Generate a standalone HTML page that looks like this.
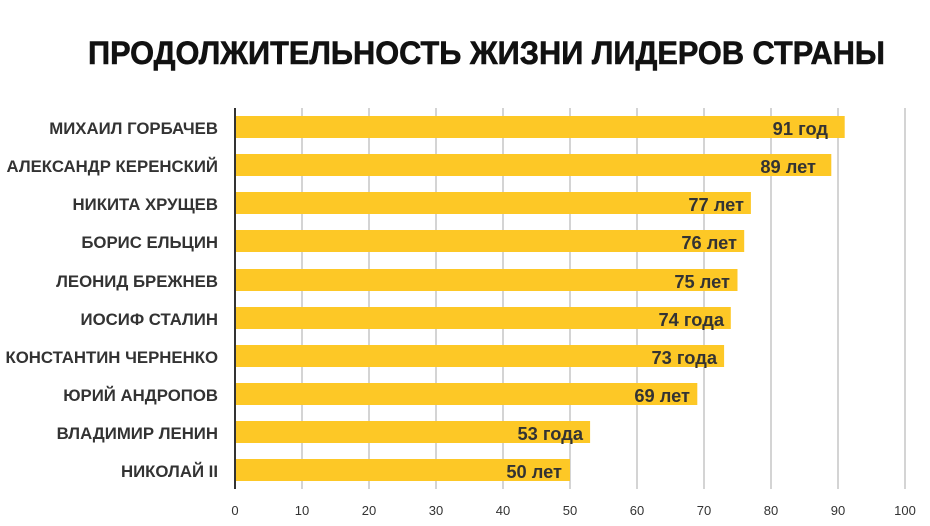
<!DOCTYPE html>
<html><head><meta charset="utf-8"><style>
body{margin:0;background:#fff}
svg{display:block}
text{font-family:"Liberation Sans",sans-serif}
</style></head><body>
<svg width="930" height="526" viewBox="0 0 930 526">
<rect width="930" height="526" fill="#fff"/>
<text x="88" y="64" font-size="32" font-weight="bold" fill="#111" stroke="#111" stroke-width="0.6" textLength="797" lengthAdjust="spacingAndGlyphs">ПРОДОЛЖИТЕЛЬНОСТЬ ЖИЗНИ ЛИДЕРОВ СТРАНЫ</text>
<g stroke="#aaa" stroke-width="1">
<line x1="302" y1="108" x2="302" y2="489"/><line x1="369" y1="108" x2="369" y2="489"/>
<line x1="436" y1="108" x2="436" y2="489"/><line x1="503" y1="108" x2="503" y2="489"/>
<line x1="570" y1="108" x2="570" y2="489"/><line x1="637" y1="108" x2="637" y2="489"/>
<line x1="704" y1="108" x2="704" y2="489"/><line x1="771" y1="108" x2="771" y2="489"/>
<line x1="838" y1="108" x2="838" y2="489"/><line x1="905" y1="108" x2="905" y2="489"/>
</g>
<g fill="#fdc826">
<rect x="235" y="116" width="609.7" height="22"/>
<rect x="235" y="154" width="596.3" height="22"/>
<rect x="235" y="192" width="515.9" height="22"/>
<rect x="235" y="230" width="509.2" height="22"/>
<rect x="235" y="269" width="502.5" height="22"/>
<rect x="235" y="307" width="495.8" height="22"/>
<rect x="235" y="345" width="489.1" height="22"/>
<rect x="235" y="383" width="462.3" height="22"/>
<rect x="235" y="421" width="355.1" height="22"/>
<rect x="235" y="459" width="335" height="22"/>
</g>
<line x1="235" y1="108" x2="235" y2="489" stroke="#333" stroke-width="2"/>
<g font-size="16.8" font-weight="bold" fill="#333" text-anchor="end">
<text x="218" y="134">МИХАИЛ ГОРБАЧЕВ</text>
<text x="218" y="172">АЛЕКСАНДР КЕРЕНСКИЙ</text>
<text x="218" y="210">НИКИТА ХРУЩЕВ</text>
<text x="218" y="248">БОРИС ЕЛЬЦИН</text>
<text x="218" y="287">ЛЕОНИД БРЕЖНЕВ</text>
<text x="218" y="325">ИОСИФ СТАЛИН</text>
<text x="218" y="363">КОНСТАНТИН ЧЕРНЕНКО</text>
<text x="218" y="401">ЮРИЙ АНДРОПОВ</text>
<text x="218" y="439">ВЛАДИМИР ЛЕНИН</text>
<text x="218" y="477">НИКОЛАЙ II</text>
</g>
<g font-size="18.3" font-weight="bold" fill="#333" text-anchor="end">
<text x="828" y="135">91 год</text>
<text x="816" y="173">89 лет</text>
<text x="744" y="211">77 лет</text>
<text x="737" y="249">76 лет</text>
<text x="730" y="288">75 лет</text>
<text x="724" y="326">74 года</text>
<text x="717" y="364">73 года</text>
<text x="690" y="402">69 лет</text>
<text x="583" y="440">53 года</text>
<text x="562" y="478">50 лет</text>
</g>
<g font-size="13" fill="#333" text-anchor="middle">
<text x="235" y="515">0</text><text x="302" y="515">10</text><text x="369" y="515">20</text>
<text x="436" y="515">30</text><text x="503" y="515">40</text><text x="570" y="515">50</text>
<text x="637" y="515">60</text><text x="704" y="515">70</text><text x="771" y="515">80</text>
<text x="838" y="515">90</text><text x="905" y="515">100</text>
</g>
</svg>
</body></html>
